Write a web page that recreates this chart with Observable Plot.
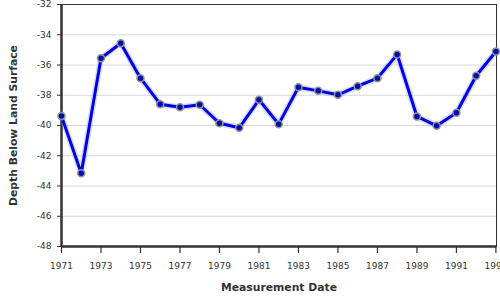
<!DOCTYPE html>
<html>
<head>
<meta charset="utf-8">
<script src="https://cdn.jsdelivr.net/npm/d3@7"></script>
<script src="https://cdn.jsdelivr.net/npm/@observablehq/plot@0.6"></script>
<style>
  html, body { margin: 0; padding: 0; background: white; }
  #chart { width: 500px; height: 300px; overflow: hidden; }
</style>
</head>
<body>
<div id="chart"></div>
<script>
const years = [1971,1972,1973,1974,1975,1976,1977,1978,1979,1980,1981,1982,1983,1984,1985,1986,1987,1988,1989,1990,1991,1992,1993];
const depths = [-39.38,-43.15,-35.55,-34.56,-36.87,-38.59,-38.79,-38.63,-39.85,-40.15,-38.30,-39.91,-37.47,-37.71,-37.97,-37.40,-36.87,-35.31,-39.40,-40.02,-39.16,-36.71,-35.11];
const xTicks = [1971,1973,1975,1977,1979,1981,1983,1985,1987,1989,1991,1993];
const yTicks = [-32,-34,-36,-38,-40,-42,-44,-46,-48];
const xLabel = "Measurement Date";
const yLabel = "Depth Below Land Surface";

const data = years.map((y, i) => ({year: y, depth: depths[i]}));

const chart = Plot.plot({
  width: 500,
  height: 300,
  marginLeft: 61,
  marginRight: 4,
  marginTop: 4,
  marginBottom: 54,
  style: {fontFamily: "DejaVu Sans", fontSize: "9px", color: "#333", background: "white", overflow: "hidden"},
  x: {domain: [1971, 1993.03]},
  y: {domain: [-48, -32]},
  marks: [
    Plot.ruleY(yTicks, {stroke: "#d8d8d8", strokeWidth: 1}),
    Plot.frame({stroke: "#333", strokeWidth: 1}),
    Plot.ruleX([1971], {stroke: "#333", strokeWidth: 2.5}),
    Plot.ruleY([-48], {stroke: "#333", strokeWidth: 2.5}),
    Plot.axisX({ticks: xTicks, tickFormat: d => String(d), tickSize: 7, tickPadding: 9, stroke: "#333", strokeWidth: 1.2,
      label: xLabel, labelAnchor: "center", labelOffset: 44, labelArrow: false}),
    Plot.axisY({ticks: yTicks, tickFormat: d => String(d), tickSize: 4, tickPadding: 6, stroke: "#333",
      label: yLabel, labelAnchor: "center", labelOffset: 52, labelArrow: false}),
    Plot.line(data, {x: "year", y: "depth", stroke: "#6a6aff", strokeWidth: 6, strokeOpacity: 0.25}),
    Plot.line(data, {x: "year", y: "depth", stroke: "#0000e6", strokeWidth: 3}),
    Plot.dot(data, {x: "year", y: "depth", r: 3.5, fill: "#0a0ab0", stroke: "#8a9a8c", strokeWidth: 1.5})
  ]
});
chart.querySelectorAll("[aria-label='x-axis label'] text, [aria-label='y-axis label'] text").forEach(t => {
  t.setAttribute("font-weight", "bold");
  t.setAttribute("font-size", "10.8px");
});
document.getElementById("chart").appendChild(chart);
</script>
</body>
</html>
